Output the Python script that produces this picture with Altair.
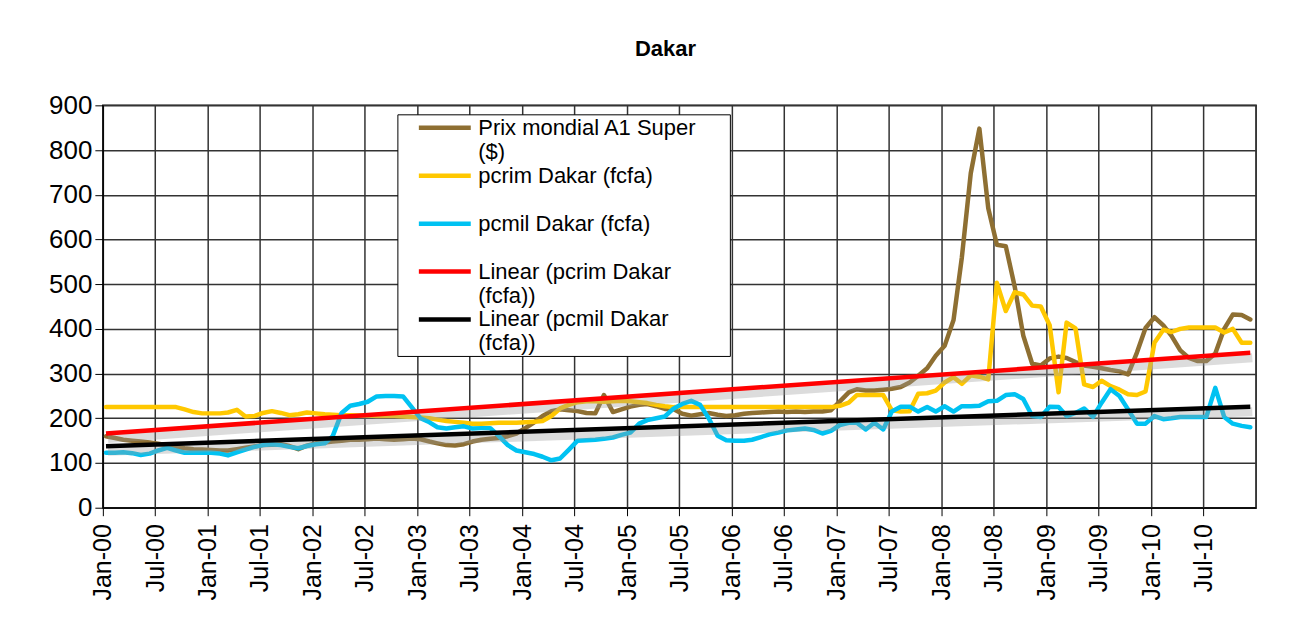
import altair as alt
import pandas as pd

# ---- data (monthly, Jan-2000 .. Dec-2010) ----
months = (pd.date_range("2000-01-01", periods=132, freq="MS") + pd.Timedelta(days=11)).strftime("%Y-%m-%d").tolist()

prix_mondial = [
    160, 156, 152, 150, 148, 146, 143, 140, 136, 133, 131, 130,
    129, 128, 128, 131, 134, 137, 140, 141, 142, 138, 131, 139,
    144, 146, 148, 150, 152, 152, 153, 155, 153, 152, 153, 155,
    153, 148, 144, 140, 139, 142, 148, 152, 154, 156, 160, 166,
    178, 191, 205, 216, 220, 218, 216, 212, 211, 252, 214, 220,
    226, 230, 232, 227, 221, 220, 210, 206, 209, 212, 208, 205,
    207, 210, 212, 213, 214, 215, 214, 215, 214, 215, 215, 218,
    238, 258, 265, 262, 262, 264, 266, 270, 280, 295, 312, 340,
    362, 420, 560, 748, 848, 670, 588, 585, 495, 385, 322, 318,
    334, 338, 335, 326, 318, 315, 312, 308, 305, 298, 347, 402,
    426, 408, 385, 352, 335, 328, 328, 345, 400, 432, 431, 421,
]

pcrim = [
    225, 225, 225, 225, 225, 225, 225, 225, 225, 220, 214, 211,
    211, 211, 213, 219, 204, 205, 212, 216, 212, 207, 209, 213,
    211, 209, 208, 207, 207, 206, 206, 205, 205, 205, 204, 203,
    202, 200, 197, 194, 192, 190, 188, 188, 189, 190, 190, 190,
    191, 192, 194, 205, 222, 230, 236, 238, 238, 237, 238, 239,
    238, 236, 234, 230, 227, 225, 225, 225, 225, 225, 225, 225,
    225, 225, 225, 225, 225, 225, 225, 225, 225, 225, 225, 225,
    228, 235, 252, 252, 252, 252, 218, 215, 216, 255, 256, 262,
    280, 292, 277, 296, 293, 287, 503, 440, 482, 477, 452, 450,
    408, 258, 414, 401, 276, 270, 284, 272, 264, 254, 252, 260,
    369, 398, 393, 400, 403, 403, 403, 403, 392, 400, 369, 369,
]

pcmil = [
    123, 123, 124, 122, 118, 121, 128, 134, 128, 123, 123, 123,
    123, 121, 117, 124, 130, 136, 140, 142, 140, 136, 133, 138,
    142, 144, 160, 212, 228, 232, 237, 249, 250, 250, 249, 225,
    200, 191, 180, 177, 180, 182, 177, 178, 178, 160, 140, 128,
    124, 120, 114, 106, 110, 130, 150, 151, 152, 154, 157, 163,
    168, 188, 196, 200, 204, 222, 232, 239, 230, 200, 161, 151,
    150, 150, 152, 158, 164, 168, 173, 175, 177, 174, 166, 172,
    185, 190, 190, 175, 190, 175, 215, 226, 226, 215, 225, 215,
    227, 215, 227, 227, 228, 238, 239, 252, 254, 243, 205, 203,
    226, 225, 205, 212, 222, 203, 235, 265, 250, 220, 188, 188,
    205, 198, 200, 203, 203, 203, 203, 268, 203, 188, 183, 180,
]

S_PRIX = "Prix mondial A1 Super ($)"
S_RIM = "pcrim Dakar (fcfa)"
S_MIL = "pcmil Dakar (fcfa)"
S_LRIM = "Linear (pcrim Dakar (fcfa))"
S_LMIL = "Linear (pcmil Dakar (fcfa))"
series_names = [S_PRIX, S_RIM, S_MIL, S_LRIM, S_LMIL]
series_colors = ["#8E6F32", "#FFC800", "#00C2F2", "#FF0000", "#000000"]
series_widths = [4.5, 4.5, 4.5, 8, 8]

y_ticks = [0, 100, 200, 300, 400, 500, 600, 700, 800, 900]
x_tick_years = list(range(2000, 2011))

rows = []
for name, vals in [(S_PRIX, prix_mondial), (S_RIM, pcrim), (S_MIL, pcmil)]:
    for d, v in zip(months, vals):
        rows.append({"date": d, "series": name, "value": v})
df = pd.DataFrame(rows)

FONT = "Liberation Sans"
PAD = "\u2800" * 2

label_expr = (
    f"datum.label == '{S_PRIX}' ? ['Prix mondial A1 Super{PAD}', '($)'] : "
    f"datum.label == '{S_RIM}' ? ['pcrim Dakar (fcfa)', ''] : "
    f"datum.label == '{S_MIL}' ? ['pcmil Dakar (fcfa)', ''] : "
    f"datum.label == '{S_LRIM}' ? ['Linear (pcrim Dakar', '(fcfa))'] : "
    f"['Linear (pcmil Dakar', '(fcfa))']"
)
legend = alt.Legend(
    title=None, labelExpr=label_expr, symbolType="M-2.6,0H2.6", symbolSize=400,
    symbolOffset=34, labelOffset=21,
)

x_values = []
for yr in x_tick_years:
    x_values.append(alt.DateTime(year=yr, month=1, date=1, utc=True))
    x_values.append(alt.DateTime(year=yr, month=7, date=1, utc=True))

x_enc = alt.X(
    "date:T",
    scale=alt.Scale(
        type="utc",
        domain=[alt.DateTime(year=2000, month=1, date=1, utc=True),
                alt.DateTime(year=2011, month=1, date=1, utc=True)],
    ),
    axis=alt.Axis(
        values=x_values, format="%b-%y", labelAngle=-90, title=None,
        labelFontSize=25, labelFont=FONT, labelColor="black",
        tickSize=8, tickColor="black", domainColor="black",
        gridColor="#333333", gridWidth=1.5, labelPadding=8,
    ),
)
y_enc = alt.Y(
    "value:Q",
    scale=alt.Scale(domain=[0, 900], nice=False),
    axis=alt.Axis(
        values=y_ticks, title=None, labelFontSize=26, labelFont=FONT,
        labelColor="black", tickSize=8, tickColor="black", domainColor="black",
        gridColor="#333333", gridWidth=1.5, labelPadding=3,
    ),
)
color_enc = alt.Color("series:N", scale=alt.Scale(domain=series_names, range=series_colors), legend=legend)
width_enc = alt.StrokeWidth("series:N", scale=alt.Scale(domain=series_names, range=series_widths), legend=legend)

base = alt.Chart(df)

lines = base.mark_line(strokeJoin="round", strokeCap="round").encode(
    x=x_enc, y=y_enc, color=color_enc, strokeWidth=width_enc
)


def trend(src, name):
    t = (
        base.transform_filter(alt.datum.series == src)
        .transform_regression("date", "value")
        .transform_calculate(series=f"'{name}'")
    )
    shadow = t.mark_line(color="#9a9a9a", strokeWidth=9, opacity=0.35, yOffset=5, xOffset=2).encode(
        x=x_enc, y=y_enc
    )
    line = t.mark_line(strokeCap="butt").encode(x=x_enc, y=y_enc, color=color_enc, strokeWidth=width_enc)
    return shadow, line


sh_rim, tr_rim = trend(S_RIM, S_LRIM)
sh_mil, tr_mil = trend(S_MIL, S_LMIL)

chart = (
    alt.layer(lines, sh_rim, sh_mil, tr_rim, tr_mil)
    .properties(
        width=1155,
        height=403,
        title=alt.TitleParams("Dakar", fontSize=22, font=FONT, fontWeight="bold",
                              anchor="middle", offset=31, dx=-14, color="black"),
        autosize=alt.AutoSizeParams(type="none"),
        padding={"left": 95, "top": 97, "right": 25, "bottom": 125},
        background="white",
    )
    .configure_view(stroke="black", strokeWidth=1.5)
    .configure_legend(
        orient="none", legendX=295, legendY=9, fillColor="white", strokeColor="black",
        padding=1, labelFontSize=22, labelFont=FONT, labelColor="black",
        rowPadding=0, labelLimit=500, labelBaseline="middle",
    )
)

chart.save("out.html", embed_options={"renderer": "svg", "actions": False})
